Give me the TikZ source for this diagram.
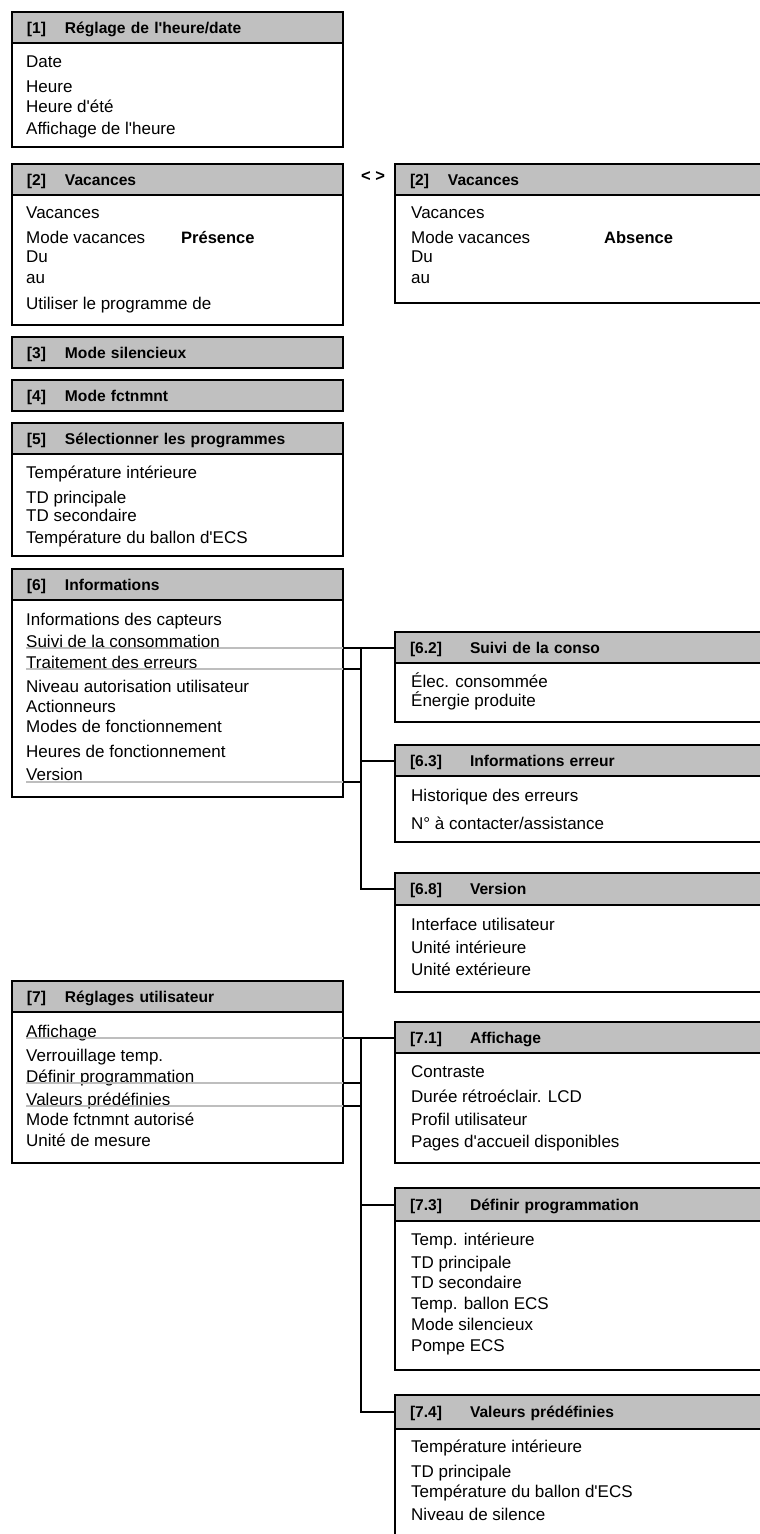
\documentclass[tikz,border=0pt]{standalone}
\usepackage{fontspec}
\setmainfont{Liberation Sans}

\definecolor{hdrgray}{HTML}{C0C0C0}
\definecolor{selgray}{HTML}{BEBEBE}

\tikzset{
  hdr/.style={draw=black, line width=2pt, fill=hdrgray, anchor=north west, outer sep=0pt,
    minimum height=31pt, text width=#1, inner xsep=15pt, align=left,
    text height=11pt, text depth=0pt, font=\bfseries\fontsize{15.6}{18}\selectfont},
  hdr/.default=301pt,
  bodybox/.style={draw=black, line width=2pt, anchor=north west, outer sep=0pt,
    inner sep=0pt, minimum width=#1},
  bodybox/.default=331pt,
  entry/.style={anchor=base west, inner sep=0pt, font=\fontsize{17}{20}\selectfont},
  state/.style={anchor=base west, inner sep=0pt, font=\bfseries\fontsize{16.5}{20}\selectfont},
  selline/.style={draw=selgray, line width=1.5pt},
  link/.style={draw=black, line width=2pt}
}

\begin{document}
\begin{tikzpicture}[x=1pt, y=-1pt]
  \useasboundingbox (0,0) rectangle (760,1534);
  \clip (0,0) rectangle (760,1534);

  % [1]
  \node[bodybox, minimum height=104pt] (b1) at (12,43) {};
  \node[hdr] (h1) at (12,12) {\makebox[38pt][l]{[1]}Réglage de l\textquotesingle heure/date};
  \node[entry] (i1a) at (26,67) {Date};
  \node[entry] (i1b) at (26,92) {Heure};
  \node[entry] (i1c) at (26,112) {Heure d\textquotesingle été};
  \node[entry] (i1d) at (26,134) {Affichage de l\textquotesingle heure};

  % [2] presence / absence
  \node[bodybox, minimum height=130pt] (b2) at (12,195) {};
  \node[hdr] (h2) at (12,164) {\makebox[38pt][l]{[2]}Vacances};
  \node[entry] (i2a) at (26,218) {Vacances};
  \node[entry] (i2b) at (26,243) {Mode vacances};
  \node[state] (s2) at (181,243) {Présence};
  \node[entry] (i2c) at (26,262) {Du};
  \node[entry] (i2d) at (26,283) {au};
  \node[entry] (i2e) at (26,309) {Utiliser le programme de};

  \node[font=\bfseries\fontsize{16.5}{20}\selectfont, inner sep=0pt] (sw) at (373,177) {< >};

  \node[bodybox=380pt, minimum height=108pt] (b2r) at (395,195) {};
  \node[hdr=350pt] (h2r) at (395,164) {\makebox[38pt][l]{[2]}Vacances};
  \node[entry] (j2a) at (411,218) {Vacances};
  \node[entry] (j2b) at (411,243) {Mode vacances};
  \node[state] (s2r) at (604,243) {Absence};
  \node[entry] (j2c) at (411,262) {Du};
  \node[entry] (j2d) at (411,283) {au};

  % [3] [4]
  \node[hdr] (h3) at (12,337) {\makebox[38pt][l]{[3]}Mode silencieux};
  \node[hdr] (h4) at (12,380) {\makebox[38pt][l]{[4]}Mode fctnmnt};

  % [5]
  \node[bodybox, minimum height=102pt] (b5) at (12,454) {};
  \node[hdr] (h5) at (12,423) {\makebox[38pt][l]{[5]}Sélectionner les programmes};
  \node[entry] (i5a) at (26,478) {Température intérieure};
  \node[entry] (i5b) at (26,503) {TD principale};
  \node[entry] (i5c) at (26,521) {TD secondaire};
  \node[entry] (i5d) at (26,543) {Température du ballon d\textquotesingle ECS};

  % [6]
  \node[bodybox, minimum height=197pt] (b6) at (12,600) {};
  \node[hdr] (h6) at (12,569) {\makebox[38pt][l]{[6]}Informations};
  \node[entry] (i6a) at (26,625) {Informations des capteurs};
  \node[entry] (i6b) at (26,647) {Suivi de la consommation};
  \node[entry] (i6c) at (26,668) {Traitement des erreurs};
  \node[entry] (i6d) at (26,692) {Niveau autorisation utilisateur};
  \node[entry] (i6e) at (26,712) {Actionneurs};
  \node[entry] (i6f) at (26,732) {Modes de fonctionnement};
  \node[entry] (i6g) at (26,757) {Heures de fonctionnement};
  \node[entry] (i6h) at (26,780) {Version};

  % [6.2]
  \node[bodybox=380pt, minimum height=59pt] (b62) at (395,663) {};
  \node[hdr=350pt] (h62) at (395,632) {\makebox[60pt][l]{[6.2]}Suivi de la conso};
  \node[entry] (i62a) at (411,687) {Élec. consommée};
  \node[entry] (i62b) at (411,706) {Énergie produite};

  % [6.3]
  \node[bodybox=380pt, minimum height=66pt] (b63) at (395,776) {};
  \node[hdr=350pt] (h63) at (395,745) {\makebox[60pt][l]{[6.3]}Informations erreur};
  \node[entry] (i63a) at (411,801) {Historique des erreurs};
  \node[entry] (i63b) at (411,829) {N° à contacter/assistance};

  % [6.8]
  \node[bodybox=380pt, minimum height=87pt] (b68) at (395,905) {};
  \node[hdr=350pt, minimum height=32pt] (h68) at (395,873) {\makebox[60pt][l]{[6.8]}Version};
  \node[entry] (i68a) at (411,930) {Interface utilisateur};
  \node[entry] (i68b) at (411,953) {Unité intérieure};
  \node[entry] (i68c) at (411,975) {Unité extérieure};

  % links of [6]
  \coordinate (sp6) at (361,648);
  \draw[selline] ([yshift=-1pt]i6b.base west) -- ([yshift=-1pt]i6b.base west -| b6.east);
  \draw[selline] ([yshift=-1pt]i6c.base west) -- ([yshift=-1pt]i6c.base west -| b6.east);
  \draw[selline] ([yshift=-2pt]i6h.base west) -- ([yshift=-2pt]i6h.base west -| b6.east);
  \draw[link] (b6.east |- h62.west) -- (h62.west);
  \draw[link] (sp6 |- h62.west) |- (h68.west);
  \draw[link] (sp6 |- h63.west) -- (h63.west);
  \draw[link] ([yshift=-1pt]i6c.base west -| b6.east) -- ([yshift=-1pt]i6c.base west -| sp6);
  \draw[link] ([yshift=-2pt]i6h.base west -| b6.east) -- ([yshift=-2pt]i6h.base west -| sp6);

  % [7]
  \node[bodybox, minimum height=151pt] (b7) at (12,1012) {};
  \node[hdr] (h7) at (12,981) {\makebox[38pt][l]{[7]}Réglages utilisateur};
  \node[entry] (i7a) at (26,1037) {Affichage};
  \node[entry] (i7b) at (26,1061) {Verrouillage temp.};
  \node[entry] (i7c) at (26,1082) {Définir programmation};
  \node[entry] (i7d) at (26,1105) {Valeurs prédéfinies};
  \node[entry] (i7e) at (26,1125) {Mode fctnmnt autorisé};
  \node[entry] (i7f) at (26,1146) {Unité de mesure};

  % [7.1]
  \node[bodybox=380pt, minimum height=111pt] (b71) at (395,1052) {};
  \node[hdr=350pt] (h71) at (395,1022) {\makebox[60pt][l]{[7.1]}Affichage};
  \node[entry] (i71a) at (411,1077) {Contraste};
  \node[entry] (i71b) at (411,1102) {Durée rétroéclair. LCD};
  \node[entry] (i71c) at (411,1125) {Profil utilisateur};
  \node[entry] (i71d) at (411,1147) {Pages d\textquotesingle accueil disponibles};

  % [7.3]
  \node[bodybox=380pt, minimum height=149pt] (b73) at (395,1221) {};
  \node[hdr=350pt, minimum height=33pt] (h73) at (395,1188) {\makebox[60pt][l]{[7.3]}Définir programmation};
  \node[entry] (i73a) at (411,1245) {Temp. intérieure};
  \node[entry] (i73b) at (411,1268) {TD principale};
  \node[entry] (i73c) at (411,1288) {TD secondaire};
  \node[entry] (i73d) at (411,1309) {Temp. ballon ECS};
  \node[entry] (i73e) at (411,1330) {Mode silencieux};
  \node[entry] (i73f) at (411,1351) {Pompe ECS};

  % [7.4]
  \node[bodybox=380pt, minimum height=130pt] (b74) at (395,1429) {};
  \node[hdr=350pt, minimum height=34pt] (h74) at (395,1395) {\makebox[60pt][l]{[7.4]}Valeurs prédéfinies};
  \node[entry] (i74a) at (411,1452) {Température intérieure};
  \node[entry] (i74b) at (411,1477) {TD principale};
  \node[entry] (i74c) at (411,1497) {Température du ballon d\textquotesingle ECS};
  \node[entry] (i74d) at (411,1520) {Niveau de silence};

  % links of [7]
  \coordinate (sp7) at (361,1037);
  \draw[selline] ([yshift=-1pt]i7a.base west) -- ([yshift=-1pt]i7a.base west -| b7.east);
  \draw[selline] ([yshift=-1pt]i7c.base west) -- ([yshift=-1pt]i7c.base west -| b7.east);
  \draw[selline] ([yshift=-1pt]i7d.base west) -- ([yshift=-1pt]i7d.base west -| b7.east);
  \draw[link] (b7.east |- h71.west) -- (h71.west);
  \draw[link] (sp7 |- h71.west) |- (h74.west);
  \draw[link] (sp7 |- h73.west) -- (h73.west);
  \draw[link] ([yshift=-1pt]i7c.base west -| b7.east) -- ([yshift=-1pt]i7c.base west -| sp7);
  \draw[link] ([yshift=-1pt]i7d.base west -| b7.east) -- ([yshift=-1pt]i7d.base west -| sp7);
\end{tikzpicture}
\end{document}
